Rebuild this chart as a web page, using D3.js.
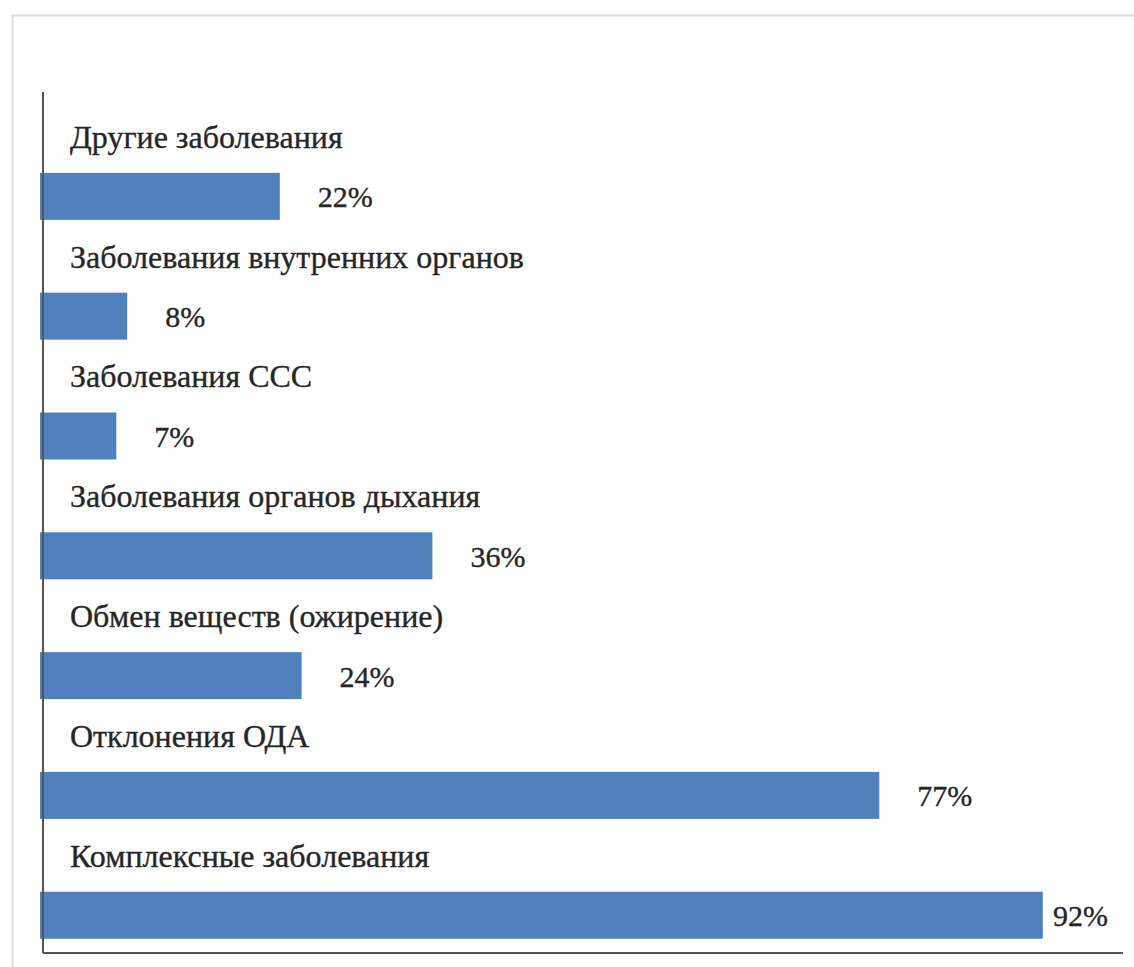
<!DOCTYPE html>
<html>
<head>
<meta charset="utf-8">
<script src="https://cdn.jsdelivr.net/npm/d3@7"></script>
<style>
  html, body { margin: 0; padding: 0; background: #fff; }
  svg { display: block; }
  text { font-family: "Liberation Serif", "Times New Roman", serif; }
</style>
</head>
<body>
<svg id="chart" width="1134" height="967"></svg>
<script>
// Доля выявленных заболеваний, %
const categories = [
  "Другие заболевания",
  "Заболевания внутренних органов",
  "Заболевания ССС",
  "Заболевания органов дыхания",
  "Обмен веществ (ожирение)",
  "Отклонения ОДА",
  "Комплексные заболевания"
];
const values = [22, 8, 7, 36, 24, 77, 92];
const valueLabels = ["22%", "8%", "7%", "36%", "24%", "77%", "92%"];

const data = categories.map((c, i) => ({ name: c, value: values[i], label: valueLabels[i] }));

const svg = d3.select("#chart");
const W = 1134, H = 967;
const textColor = "#262626";

// outer page frame
svg.append("rect")
  .attr("x", 12.5).attr("y", 15.5)
  .attr("width", W + 20).attr("height", H + 20)
  .attr("fill", "none")
  .attr("stroke", "#dcdcdc")
  .attr("stroke-width", 2);

const axisLeft = 43, axisTop = 92, axisBottom = 953, axisRight = 1123;
const barStart = 40;

const x = d3.scaleLinear().domain([0, 100]).range([barStart, barStart + 1090]);
const y = d3.scaleBand()
  .domain(categories)
  .range([axisTop, axisBottom])
  .paddingInner(0.608)
  .paddingOuter(0.397)
  .align(0.85);

// bars
svg.append("g").selectAll("rect")
  .data(data)
  .join("rect")
  .attr("x", x(0))
  .attr("y", d => y(d.name))
  .attr("width", d => x(d.value) - x(0))
  .attr("height", y.bandwidth())
  .attr("fill", "#4f81bd");

// category names above the bars
svg.append("g").selectAll("text")
  .data(data)
  .join("text")
  .attr("x", 70)
  .attr("y", d => y(d.name) - 25)
  .attr("font-size", 32)
  .attr("fill", textColor)
  .attr("stroke", textColor)
  .attr("stroke-width", 0.35)
  .text(d => d.name);

// value labels to the right of the bars, kept inside the plot frame
const labelGap = 38, labelMaxX = 1053;
svg.append("g").selectAll("text")
  .data(data)
  .join("text")
  .attr("x", d => Math.min(x(d.value) + labelGap, labelMaxX))
  .attr("y", d => y(d.name) + y.bandwidth() / 2 + 11)
  .attr("font-size", 30)
  .attr("fill", textColor)
  .attr("stroke", textColor)
  .attr("stroke-width", 0.35)
  .text(d => d.label);

// axes lines
svg.append("line")
  .attr("x1", axisLeft).attr("x2", axisLeft)
  .attr("y1", axisTop).attr("y2", axisBottom)
  .attr("stroke", "#555").attr("stroke-width", 2);
svg.append("line")
  .attr("x1", axisLeft).attr("x2", axisRight)
  .attr("y1", axisBottom).attr("y2", axisBottom)
  .attr("stroke", "#555").attr("stroke-width", 2);
</script>
</body>
</html>
